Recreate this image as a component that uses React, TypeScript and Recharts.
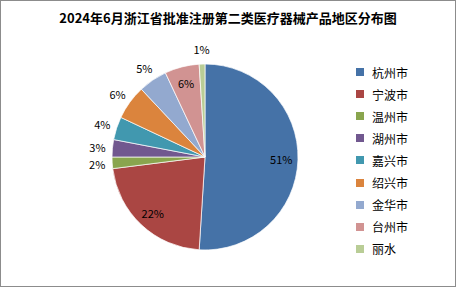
import { PieChart, Pie, Cell } from 'recharts'

const regions = ['杭州市', '宁波市', '温州市', '湖州市', '嘉兴市', '绍兴市', '金华市', '台州市', '丽水']
const shares = [51, 22, 2, 3, 4, 6, 5, 6, 1]
const colors = ['#4572A7', '#AA4643', '#89A54E', '#71588F', '#4198AF', '#DB843D', '#93A9CF', '#D19392', '#B9CD96']
// which labels sit inside the slice
const inside = [true, true, false, false, false, false, false, true, false]

const data = regions.map((name, i) => ({ name, value: shares[i] }))
const total = shares.reduce((a, b) => a + b, 0)

const FONT = '"Noto Sans CJK SC", "Noto Sans", sans-serif'
const RAD = Math.PI / 180

function renderLabel(props: any) {
  const { cx, cy, midAngle, outerRadius, index, value } = props
  const r = inside[index] ? outerRadius * 0.82 : outerRadius + 15
  const x = cx + r * Math.cos(-midAngle * RAD)
  const y = cy + r * Math.sin(-midAngle * RAD)
  return (
    <text x={x} y={y} fill="#000" fontSize={11} fontFamily={FONT} textAnchor="middle" dominantBaseline="central">
      {Math.round((value / total) * 100)}%
    </text>
  )
}

export default function App() {
  return (
    <div style={{
      position: 'absolute', left: 0, top: 0, width: 456, height: 287,
      boxSizing: 'border-box', border: '1px solid #8c8c8c', background: '#fff', fontFamily: FONT,
    }}>
      <div style={{
        position: 'absolute', top: 7, left: 0, width: 454, textAlign: 'center',
        fontSize: 13, fontWeight: 'bold', color: '#000',
      }}>
        2024年6月浙江省批准注册第二类医疗器械产品地区分布图
      </div>
      <div style={{ position: 'absolute', left: -1, top: -1 }}>
        <PieChart width={400} height={285} margin={{ top: 0, right: 0, bottom: 0, left: 0 }}>
          <Pie
            data={data}
            dataKey="value"
            nameKey="name"
            cx={205}
            cy={157}
            outerRadius={93}
            startAngle={90}
            endAngle={-270}
            stroke="#fff"
            strokeWidth={0.7}
            label={renderLabel}
            labelLine={false}
            isAnimationActive={false}
          >
            {data.map((d, i) => <Cell key={d.name} fill={colors[i]} />)}
          </Pie>
        </PieChart>
      </div>
      <div style={{ position: 'absolute', left: 355, top: 60 }}>
        {regions.map((name, i) => (
          <div key={name} style={{ display: 'flex', alignItems: 'center', height: 22.1, fontSize: 12, color: '#000' }}>
            <span style={{ width: 8, height: 8, background: colors[i], marginRight: 8, display: 'inline-block' }} />
            {name}
          </div>
        ))}
      </div>
    </div>
  )
}
